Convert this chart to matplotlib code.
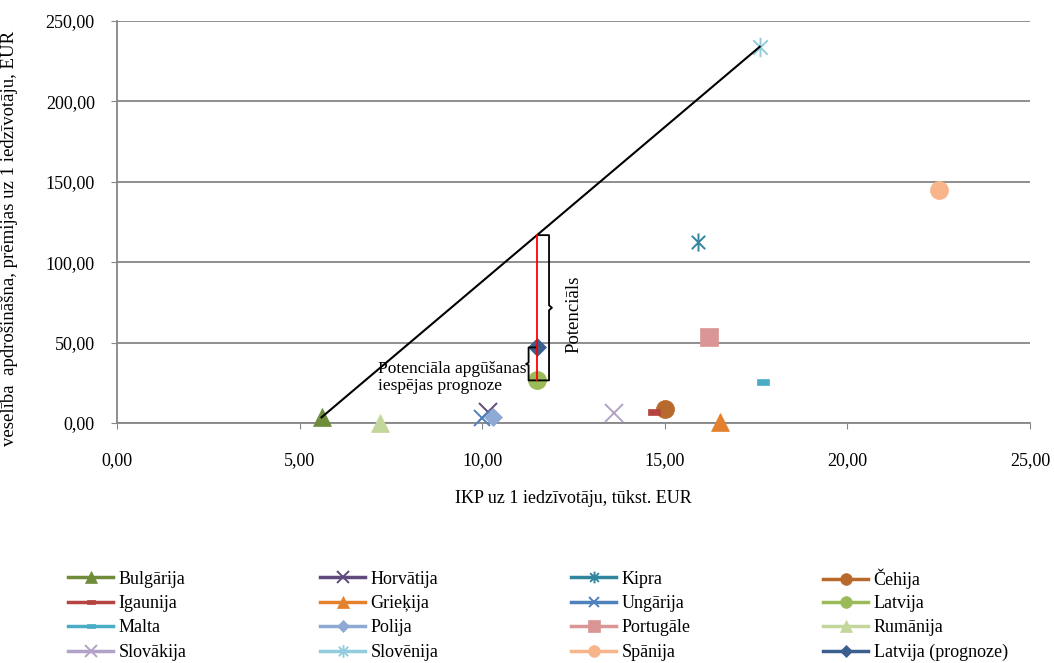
import matplotlib.pyplot as plt
from matplotlib.lines import Line2D
from matplotlib.path import Path
from matplotlib.ticker import FuncFormatter, MultipleLocator

plt.rcParams["font.family"] = ["Liberation Serif", "DejaVu Serif"]
plt.rcParams["font.size"] = 13

# dati: IKP uz 1 iedzīvotāju (tūkst. EUR) un veselības apdrošināšanas prēmijas (EUR)
countries = ["Bulgārija", "Horvātija", "Kipra", "Čehija", "Igaunija", "Grieķija",
             "Ungārija", "Latvija", "Malta", "Polija", "Portugāle", "Rumānija",
             "Slovākija", "Slovēnija", "Spānija", "Latvija (prognoze)"]
gdp = [5.6, 10.15, 15.9, 15.0, 14.7, 16.5, 10.0, 11.5, 17.7, 10.3, 16.2, 7.2,
       13.6, 17.6, 22.5, 11.5]
premiums = [3.5, 7.0, 112.5, 8.5, 7.0, 0.5, 3.0, 26.5, 25.5, 4.0, 53.5, 0.3,
            6.0, 234.0, 145.0, 47.0]

colors = ["#6F8C3A", "#604A7B", "#31859C", "#B86A2C", "#B5433F", "#E4812E",
          "#4F81BD", "#9BBB59", "#4BACC6", "#8EA9D3", "#D99694", "#C3D69B",
          "#B3A2C7", "#93CDDD", "#F8B58C", "#3A5F8F"]

asterisk = Path([(-1, -1), (1, 1), (-1, 1), (1, -1), (0, -1.35), (0, 1.35)],
                [Path.MOVETO, Path.LINETO] * 3)
dash = Path([(-1, -0.55), (1, -0.55), (1, 0.55), (-1, 0.55), (-1, -0.55)],
            [Path.MOVETO, Path.LINETO, Path.LINETO, Path.LINETO, Path.CLOSEPOLY])
markers = ["^", "x", asterisk, "o", dash, "^", "x", "o", dash, "D", "s", "^",
           "x", asterisk, "o", "D"]
sizes = [13, 13, 13, 13, 9, 13, 12, 13, 9, 9, 13, 13, 13, 14, 13, 9]

fig = plt.figure(figsize=(10.54, 6.63), dpi=100)
ax = fig.add_axes([117 / 1054, 1 - 423 / 663, (1030 - 117) / 1054, (423 - 21) / 663])

handles = []
for name, x, y, c, m, s in zip(countries, gdp, premiums, colors, markers, sizes):
    line_marker = m == "x" or m is asterisk
    ax.plot([x], [y], ls="none", marker=m, ms=s, color=c, mec=c,
            mew=1.4 if line_marker else 0.5, zorder=3, clip_on=False)
    handles.append(Line2D([], [], color=c, lw=2.5, marker=m, ms=s * 0.65,
                          mec=c, mew=1.4 if line_marker else 0.5))

# līnija no Bulgārijas līdz Slovēnijai
i_b = countries.index("Bulgārija")
i_s = countries.index("Slovēnija")
ax.plot([gdp[i_b], gdp[i_s]], [premiums[i_b], premiums[i_s]], color="black", lw=1.5, zorder=4)

# potenciāls Latvijai
i_l = countries.index("Latvija")
i_p = countries.index("Latvija (prognoze)")
xl = gdp[i_l]
slope = (premiums[i_s] - premiums[i_b]) / (gdp[i_s] - gdp[i_b])
y_top = premiums[i_b] + slope * (xl - gdp[i_b])
ax.plot([xl, xl], [premiums[i_l], y_top], color="red", lw=1.3, zorder=5)

# liela iekava
y_bot = premiums[i_l]
ym = (y_top + y_bot) / 2
bx = xl + 0.33
ax.plot([xl + 0.02, bx, bx, bx + 0.08, bx, bx, xl + 0.02],
        [y_top, y_top, ym + 1.5, ym, ym - 1.5, y_bot, y_bot],
        color="black", lw=1.3, zorder=4)
ax.text(xl + 1.0, ym - 4, "Potenciāls", rotation=90, ha="center", va="center", fontsize=13.5)

# maza iekava
sx = xl - 0.23
y1 = premiums[i_p]
sm = (y1 + y_bot) / 2
ax.plot([xl - 0.02, sx, sx, sx - 0.07, sx, sx, xl - 0.02],
        [y1, y1, sm + 0.8, sm, sm - 0.8, y_bot, y_bot],
        color="black", lw=1.3, zorder=4)
ax.text(sx - 0.07, sm - 8.5, "Potenciāla apgūšanas\niespējas prognoze",
        ha="right", va="center", multialignment="left", fontsize=12.5,
        linespacing=1.15, zorder=6)

ax.set_xlim(0, 25)
ax.set_ylim(0, 250)
ax.xaxis.set_major_locator(MultipleLocator(5))
ax.yaxis.set_major_locator(MultipleLocator(50))
fmt = FuncFormatter(lambda v, p: f"{v:.2f}".replace(".", ","))
ax.xaxis.set_major_formatter(fmt)
ax.yaxis.set_major_formatter(fmt)
ax.grid(axis="y", color="#868686", lw=1.3)
ax.set_axisbelow(True)
for side in ("top", "right"):
    ax.spines[side].set_visible(False)
for side in ("left", "bottom"):
    ax.spines[side].set_color("#868686")
    ax.spines[side].set_linewidth(1.3)
ax.tick_params(axis="x", direction="out", length=4, color="#868686", pad=17, labelsize=13)
ax.tick_params(axis="y", direction="out", length=4, color="#868686", pad=12, labelsize=13)

ax.set_xlabel("IKP uz 1 iedzīvotāju, tūkst. EUR", fontsize=13, labelpad=15)
ax.set_ylabel("veselība  apdrošināšna, prēmijas uz 1 iedzīvotāju, EUR", fontsize=13.5)
ax.yaxis.set_label_coords(-0.108, 0.46)

# leģenda: 4 kolonnas x 4 rindas, katrs ieraksts savā vietā
col_x = [68, 320, 571, 823]
row_y = [579, 603.5, 628, 652.5]
for i, (h, name) in enumerate(zip(handles, countries)):
    r, c = divmod(i, 4)
    fig.legend(handles=[h], labels=[name], loc="center left",
               bbox_to_anchor=(col_x[c] / 1054, 1 - row_y[r] / 663), frameon=False,
               borderpad=0, borderaxespad=0, handlelength=2.5, handletextpad=0.3,
               fontsize=13)

fig.savefig("out.png", dpi=100)
